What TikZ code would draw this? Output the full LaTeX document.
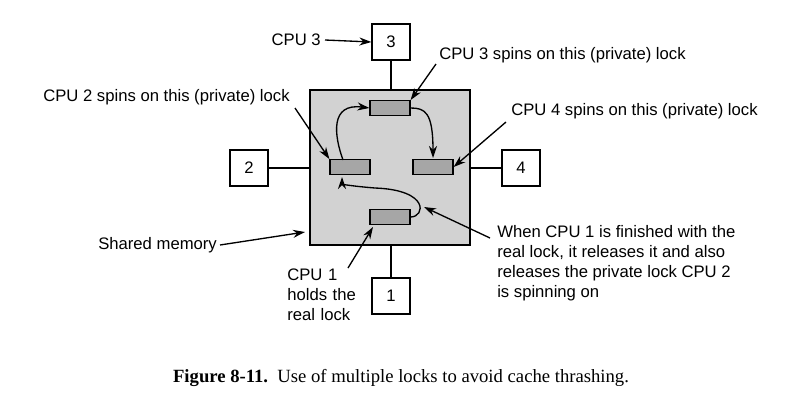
\documentclass[tikz,border=0pt]{standalone}
\usepackage{fontspec}
\setmainfont{Liberation Sans}
\newfontfamily\capfont{Liberation Serif}
\usetikzlibrary{arrows.meta}
\begin{document}
\fontsize{12.5}{15}\selectfont
\begin{tikzpicture}[x=0.75pt,y=0.75pt,yscale=-1,xscale=1,
  cpubox/.style={draw,line width=0.9pt,fill=white,minimum width=28.5pt,minimum height=27pt,inner sep=0pt},
  lockbar/.style={draw,line width=0.9pt,fill=gray!70,minimum width=30pt,minimum height=11pt,inner sep=0pt},
  lbl/.style={inner sep=0.75pt,align=left},
  pointer/.style={-{Stealth[length=9pt,width=6pt]},line width=1pt},
  link/.style={line width=0.9pt}]
\useasboundingbox (0,0) rectangle (799,401);
\draw[link,fill=gray!35] (310,90) rectangle (470,245);
% CPUs
\node[cpubox] (c3) at (391,42) {3};
\node[cpubox] (c2) at (249,168) {2};
\node[cpubox] (c4) at (521,168) {4};
\node[cpubox] (c1) at (391,296) {1};
\coordinate (m3) at (391,90);
\coordinate (m2) at (310,168);
\coordinate (m4) at (470,168);
\coordinate (m1) at (391,245);
\draw[link] (c3) -- (m3);
\draw[link] (c2) -- (m2);
\draw[link] (c4) -- (m4);
\draw[link] (c1) -- (m1);
% private locks
\node[lockbar] (ltop) at (390,108) {};
\node[lockbar] (lleft) at (350,167) {};
\node[lockbar] (lright) at (433,167) {};
\node[lockbar] (lbot) at (390,217) {};
\draw[pointer] (343,160) .. controls (334,135) and (330,103) .. (ltop.west);
\draw[pointer] (ltop.east) .. controls (425,108) and (433,112) .. (433,158);
\draw[pointer] (lbot.east) .. controls (425,217) and (430,190) .. (375,188) .. controls (350,186) and (342,184) .. (342,177);
% labels
\node[lbl,anchor=east] (t3) at (322,40) {CPU 3};
\coordinate (t3e) at (325,40);
\draw[pointer] (t3e) -- (c3.west);
\node[lbl,anchor=south west] (s3) at (438,64) {CPU 3 spins on this (private) lock};
\coordinate (s3s) at (436,64);
\draw[pointer] (s3s) -- (ltop.north east);
\node[lbl,anchor=south west] (s2) at (42,106) {CPU 2 spins on this (private) lock};
\coordinate (s2s) at (295,108);
\draw[pointer] (s2s) -- (lleft.north west);
\node[lbl,anchor=south west] (s4) at (510,120) {CPU 4 spins on this (private) lock};
\coordinate (s4s) at (506,122);
\draw[pointer] (s4s) -- (lright.east);
\node[lbl,anchor=west] (sm) at (97,245) {Shared memory};
\coordinate (sms) at (220,245);
\coordinate (smt) at (305,232);
\draw[pointer] (sms) -- (smt);
\node[lbl,anchor=north west,text width=70pt] (h1) at (286,268) {CPU 1\\ holds the\\ real lock};
\coordinate (h1s) at (348,268);
\coordinate (h1t) at (373,227);
\draw[pointer] (h1s) -- (h1t);
\node[lbl,anchor=north west] (w1) at (496,224) {When CPU 1 is finished with the\\ real lock, it releases it and also\\ releases the private lock CPU 2\\ is spinning on};
\coordinate (w1s) at (490,238);
\coordinate (w1t) at (424,207);
\draw[pointer] (w1s) -- (w1t);
\node[lbl,anchor=center,font=\capfont\fontsize{14}{16}\selectfont] (cap) at (401,378) {\textbf{Figure 8-11.}\ \ Use of multiple locks to avoid cache thrashing.};
\end{tikzpicture}
\end{document}
